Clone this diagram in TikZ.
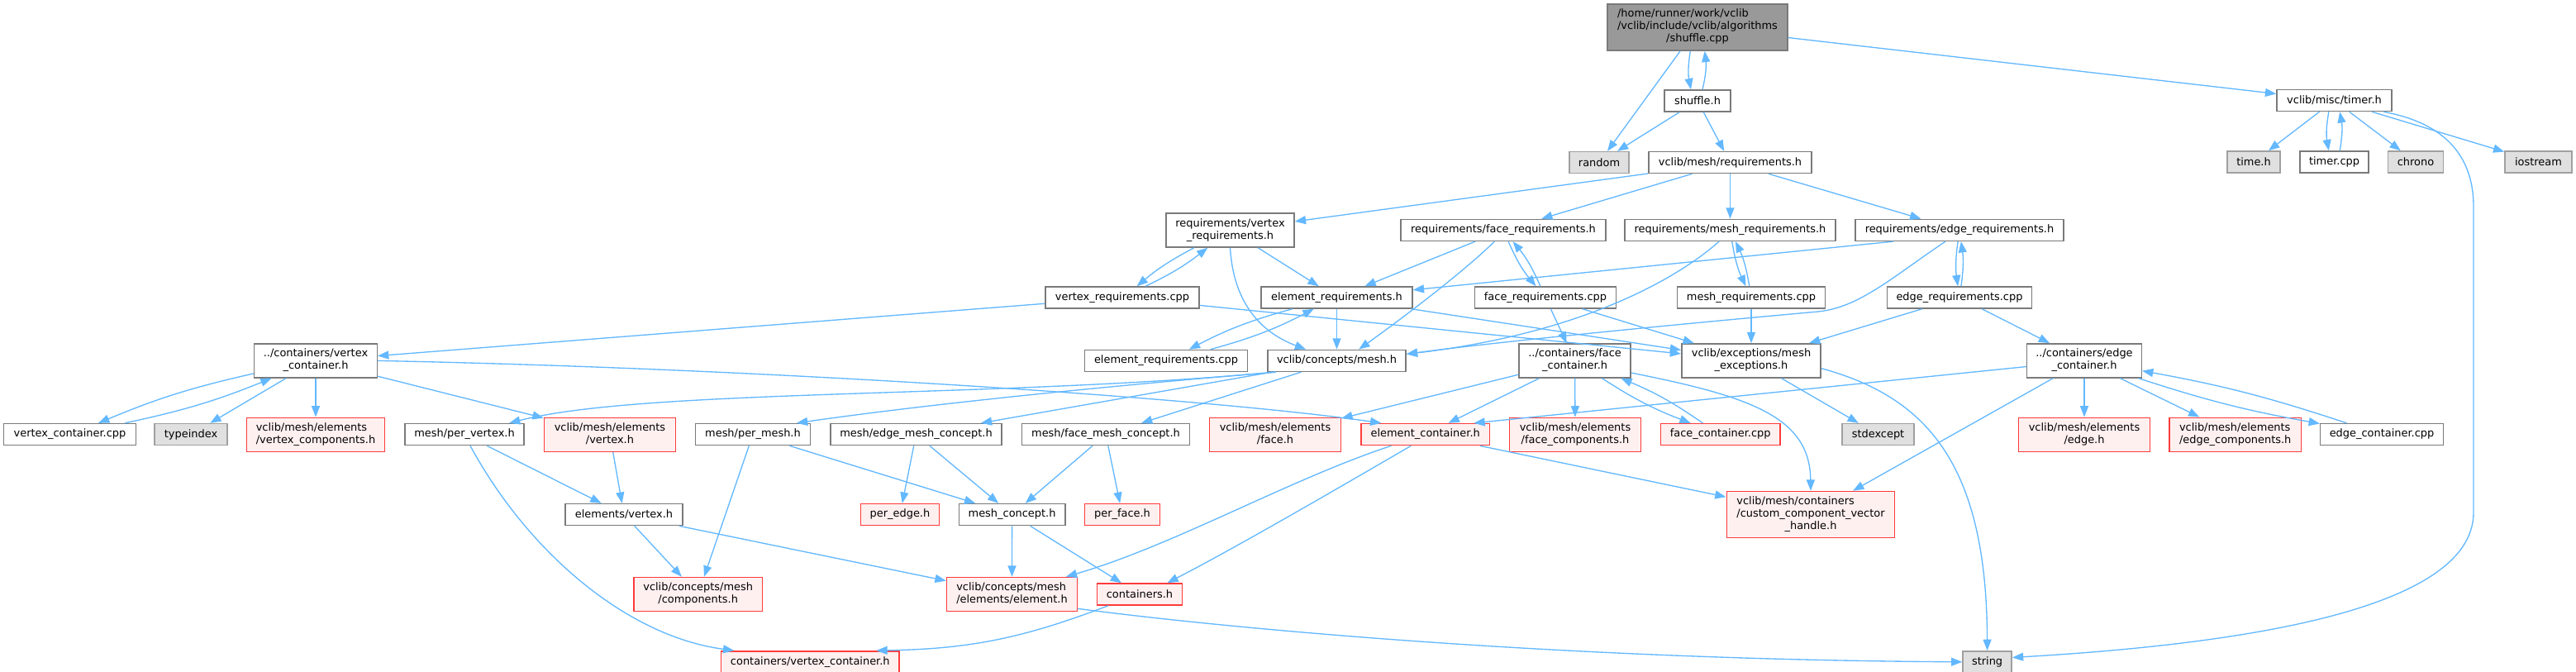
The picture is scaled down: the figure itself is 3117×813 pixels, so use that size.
\documentclass[tikz,border=0pt]{standalone}
\usepackage{fontspec}
\setmainfont{DejaVu Sans}
\usepackage{tikz}
\usepackage{xcolor}
\usetikzlibrary{arrows.meta}
\definecolor{EdgeBlue}{HTML}{63B8FF}
\definecolor{NodeGrey}{HTML}{7A7A7A}
\definecolor{ExtGrey}{HTML}{A0A0A0}
\definecolor{ExtFill}{HTML}{E0E0E0}
\definecolor{RootFill}{HTML}{999999}
\definecolor{TruncRed}{HTML}{FF3B3B}
\definecolor{TruncFill}{HTML}{FFF0F0}
\newcommand{\splitlabel}[2]{\begin{tabular}{@{}l@{}}#1\\\multicolumn{1}{@{}c@{}}{#2}\end{tabular}}

\begin{document}
\begin{tikzpicture}[x=0.75pt,y=-0.75pt,>={Triangle[length=10pt,width=7.5pt]},
    file/.style={draw=NodeGrey,fill=white,line width=1.1pt,inner sep=0pt,minimum height=19.5pt,font=\fontsize{9.7pt}{11.25pt}\selectfont},
    ext/.style={file,draw=ExtGrey,fill=ExtFill},
    trunc/.style={file,draw=TruncRed,fill=TruncFill},
    top/.style={file,fill=RootFill},
    two/.style={minimum height=30.75pt},
    three/.style={minimum height=42pt},
    dep/.style={->,draw=EdgeBlue,line width=1pt}]
  \useasboundingbox (0,0) rectangle (3117,813);
  \node[top,three,minimum width=163.5pt] (root) at (2054,33) {\splitlabel{/home/runner/work/vclib\\/vclib/include/vclib/algorithms}{/shuffle.cpp}};
  \node[file,minimum width=60pt] (shuf) at (2054,122) {shuffle.h};
  \node[file,minimum width=104.25pt] (tmr) at (2824.5,121.5) {vclib/misc/timer.h};
  \node[ext,minimum width=54pt] (rnd) at (1935,196.6) {random};
  \node[file,minimum width=147.75pt] (req) at (2093.5,196.6) {vclib/mesh/requirements.h};
  \node[ext,minimum width=48pt] (timeh) at (2727,196) {time.h};
  \node[file,minimum width=62.25pt] (tcpp) at (2824.5,196) {timer.cpp};
  \node[ext,minimum width=50.6pt] (chr) at (2923,196) {chrono};
  \node[ext,minimum width=60.75pt] (ios) at (3071.5,196) {iostream};
  \node[file,two,minimum width=116.25pt] (vreq) at (1488.5,278.5) {\splitlabel{requirements/vertex}{\_requirements.h}};
  \node[file,minimum width=186pt] (freq) at (1819,278.4) {requirements/face\_requirements.h};
  \node[file,minimum width=191.25pt] (mreq) at (2093.5,278.4) {requirements/mesh\_requirements.h};
  \node[file,minimum width=189pt] (ereq) at (2371,278.4) {requirements/edge\_requirements.h};
  \node[file,minimum width=139.5pt] (vreqc) at (1358,360) {vertex\_requirements.cpp};
  \node[file,minimum width=137.25pt] (elreq) at (1617.5,360) {element\_requirements.h};
  \node[file,minimum width=128.25pt] (freqc) at (1870,360) {face\_requirements.cpp};
  \node[file,minimum width=134.6pt] (mreqc) at (2119,360) {mesh\_requirements.cpp};
  \node[file,minimum width=131.25pt] (ereqc) at (2371,360) {edge\_requirements.cpp};
  \node[file,two,minimum width=111.4pt] (vcont) at (382,436.4) {\splitlabel{../containers/vertex}{\_container.h}};
  \node[file,minimum width=148.1pt] (elreqc) at (1411,436.4) {element\_requirements.cpp};
  \node[file,minimum width=125.25pt] (cmesh) at (1617.5,436.4) {vclib/concepts/mesh.h};
  \node[file,two,minimum width=101.25pt] (fcont) at (1905.6,436.4) {\splitlabel{../containers/face}{\_container.h}};
  \node[file,two,minimum width=126.3pt] (mexc) at (2119,436.4) {\splitlabel{vclib/exceptions/mesh}{\_exceptions.h}};
  \node[file,two,minimum width=103.9pt] (econt) at (2522,436.4) {\splitlabel{../containers/edge}{\_container.h}};
  \node[file,minimum width=119.7pt] (vcontc) at (84.5,525.6) {vertex\_container.cpp};
  \node[ext,minimum width=65.7pt] (tidx) at (231,525.6) {typeindex};
  \node[trunc,two,minimum width=125.25pt] (vcomp) at (382,525.8) {\splitlabel{vclib/mesh/elements}{/vertex\_components.h}};
  \node[file,minimum width=108pt] (pvert) at (562,525.6) {mesh/per\_vertex.h};
  \node[trunc,two,minimum width=119.4pt] (evert) at (738,525.8) {\splitlabel{vclib/mesh/elements}{/vertex.h}};
  \node[file,minimum width=104.25pt] (pmesh) at (911,525.6) {mesh/per\_mesh.h};
  \node[file,minimum width=155.25pt] (emc) at (1108.5,525.6) {mesh/edge\_mesh\_concept.h};
  \node[file,minimum width=152.25pt] (fmc) at (1338,525.6) {mesh/face\_mesh\_concept.h};
  \node[trunc,two,minimum width=119.25pt] (eface) at (1543,525.8) {\splitlabel{vclib/mesh/elements}{/face.h}};
  \node[trunc,minimum width=116.55pt] (econt2) at (1724.7,525.6) {element\_container.h};
  \node[trunc,two,minimum width=119.25pt] (fcomp) at (1906,525.8) {\splitlabel{vclib/mesh/elements}{/face\_components.h}};
  \node[trunc,minimum width=108.5pt] (fcontc) at (2081.7,525.6) {face\_container.cpp};
  \node[ext,minimum width=65.25pt] (stdx) at (2272.5,525.6) {stdexcept};
  \node[trunc,two,minimum width=119.25pt] (eedge) at (2522,525.8) {\splitlabel{vclib/mesh/elements}{/edge.h}};
  \node[trunc,two,minimum width=119.5pt] (ecomp) at (2704.7,525.8) {\splitlabel{vclib/mesh/elements}{/edge\_components.h}};
  \node[file,minimum width=111.45pt] (econtc) at (2882,525.6) {edge\_container.cpp};
  \node[file,minimum width=106.3pt] (elvert) at (755,622.6) {elements/vertex.h};
  \node[trunc,minimum width=71.25pt] (pedge) at (1089,622.6) {per\_edge.h};
  \node[file,minimum width=96.3pt] (mconc) at (1224.6,622.6) {mesh\_concept.h};
  \node[trunc,minimum width=68.25pt] (pface) at (1358,622.6) {per\_face.h};
  \node[trunc,three,minimum width=152.6pt] (cvh) at (2191,622.5) {\splitlabel{vclib/mesh/containers\\/custom\_component\_vector}{\_handle.h}};
  \node[trunc,two,minimum width=116.5pt] (ccomp) at (844.7,719) {\splitlabel{vclib/concepts/mesh}{/components.h}};
  \node[trunc,two,minimum width=118.5pt] (celem) at (1224.5,719) {\splitlabel{vclib/concepts/mesh}{/elements/element.h}};
  \node[trunc,minimum width=77.55pt] (conth) at (1379,719) {containers.h};
  \node[trunc,minimum width=161.55pt] (cvcont) at (980.3,800.8) {containers/vertex\_container.h};
  \node[ext,minimum width=44.25pt] (str) at (2404.6,800.8) {string};

  \draw[dep] (root) -- (rnd);
  \draw[dep] ([xshift=-6.5pt]root.south) to[bend right=10] ([xshift=-6pt]shuf.north);
  \draw[dep] ([xshift=4.5pt]shuf.north) to[bend right=10] ([xshift=6.5pt]root.south);
  \draw[dep] (root) -- (tmr);
  \draw[dep] (shuf) -- (rnd);
  \draw[dep] (shuf) -- (req);
  \draw[dep] (req) -- (vreq);
  \draw[dep] (req) -- (freq);
  \draw[dep] (req) -- (mreq);
  \draw[dep] (req) -- (ereq);
  \draw[dep] (tmr) -- (timeh);
  \draw[dep] ([xshift=-5pt]tmr.south) to[bend right=10] ([xshift=-5pt]tcpp.north);
  \draw[dep] ([xshift=5pt]tcpp.north) to[bend right=10] ([xshift=5pt]tmr.south);
  \draw[dep] (tmr) -- (chr);
  \draw[dep] (tmr) -- (ios);
  \draw[dep] ([xshift=44.5pt]tmr.south) .. controls (2965,150) and (2993,195) .. (2993,250) -- (2993,620) .. controls (2993,740) and (2700,780) .. ([yshift=4pt]str.east);

  \draw[dep] (vreq) to[bend right=6] (vreqc);
  \draw[dep] (vreqc) to[bend right=6] (vreq);
  \draw[dep] (vreq) -- (elreq);
  \draw[dep] (vreq.south) .. controls (1492,360) and (1520,400) .. ([xshift=-28pt]cmesh.north);
  \draw[dep] (freq) -- (elreq);
  \draw[dep] ([xshift=-8pt]freq.south) .. controls (1770,330) and (1690,390) .. ([xshift=20pt]cmesh.north);
  \draw[dep] (freq) to[bend right=8] (freqc);
  \draw[dep] (freqc) to[bend right=8] (freq);
  \draw[dep] (mreq) to[bend right=8] (mreqc);
  \draw[dep] (mreqc) to[bend right=8] (mreq);
  \draw[dep] ([xshift=-10pt]mreq.south) .. controls (2020,345) and (1900,405) .. ([yshift=6pt]cmesh.east);
  \draw[dep] ([xshift=-60pt]ereq.south) -- (elreq);
  \draw[dep] ([xshift=-12.75pt]ereq.south) .. controls (2290,335) and (2250,372) .. (2200,377) .. controls (2000,395) and (1800,415) .. ([yshift=6pt]cmesh.east);
  \draw[dep] (ereq) to[bend right=8] (ereqc);
  \draw[dep] (ereqc) to[bend right=8] (ereq);

  \draw[dep] (elreq) -- (cmesh);
  \draw[dep] (elreq) to[bend right=6] (elreqc);
  \draw[dep] (elreqc) to[bend right=6] (elreq);
  \draw[dep] (elreq) -- (mexc);
  \draw[dep] (vreqc) -- (vcont);
  \draw[dep] (vreqc) -- (mexc);
  \draw[dep] (freqc) -- (fcont);
  \draw[dep] (freqc) -- (mexc);
  \draw[dep] (mreqc) -- (mexc);
  \draw[dep] (ereqc) -- (mexc);
  \draw[dep] (ereqc) -- (econt);

  \draw[dep] ([xshift=8pt]cmesh.south west) .. controls (1200,482) and (780,470) .. ([xshift=-14pt]pvert.north east);
  \draw[dep] ([xshift=8pt]cmesh.south west) .. controls (1400,462) and (1150,485) .. ([xshift=-13pt]pmesh.north east);
  \draw[dep] (cmesh) -- (emc);
  \draw[dep] (cmesh) -- (fmc);

  \draw[dep] (vcont) to[bend right=5] (vcontc);
  \draw[dep] (vcontc) to[bend right=5] (vcont);
  \draw[dep] (vcont) -- (tidx);
  \draw[dep] (vcont) -- (vcomp);
  \draw[dep] (vcont) -- (evert);
  \draw[dep] (vcont.east) .. controls (900,445) and (1450,480) .. ([xshift=-40pt]econt2.north);

  \draw[dep] (pvert) -- (elvert);
  \draw[dep] ([xshift=5.25pt]pvert.south) .. controls (640,670) and (760,770) .. ([xshift=-69pt]cvcont.north);
  \draw[dep] (evert) -- (elvert);
  \draw[dep] (pmesh) -- (ccomp);
  \draw[dep] (pmesh) -- (mconc);
  \draw[dep] (emc) -- (pedge);
  \draw[dep] (emc) -- (mconc);
  \draw[dep] (fmc) -- (mconc);
  \draw[dep] (fmc) -- (pface);
  \draw[dep] (elvert) -- (ccomp);
  \draw[dep] (elvert) -- (celem);
  \draw[dep] (mconc) -- (celem);
  \draw[dep] (mconc) -- (conth);
  \draw[dep] ([xshift=-28.5pt]conth.south) to[bend left=10] ([xshift=60pt]cvcont.north);
  \draw[dep] ([yshift=-13pt]celem.east) .. controls (1500,762) and (1900,798) .. (str.west);

  \draw[dep] ([xshift=-31pt]econt2.south) .. controls (1560,580) and (1420,660) .. ([xshift=49pt]celem.north);
  \draw[dep] ([xshift=-13pt]econt2.south) .. controls (1620,590) and (1500,660) .. ([xshift=25pt]conth.north);
  \draw[dep] (econt2) -- (cvh);

  \draw[dep] (fcont) -- (eface);
  \draw[dep] (fcont) -- (econt2);
  \draw[dep] (fcont) -- (fcomp);
  \draw[dep] (fcont) to[bend right=6] (fcontc);
  \draw[dep] (fcontc) to[bend right=6] (fcont);
  \draw[dep] ([yshift=-11pt]fcont.east) .. controls (2120,480) and (2190,505) .. (cvh.north);

  \draw[dep] (mexc) -- (stdx);
  \draw[dep] ([yshift=-7pt]mexc.east) .. controls (2330,480) and (2404,560) .. (str.north);

  \draw[dep] (econt) -- ([xshift=44pt]econt2.north);
  \draw[dep] (econt) -- (cvh);
  \draw[dep] (econt) -- (eedge);
  \draw[dep] (econt) -- (ecomp);
  \draw[dep] (econt) to[bend right=4] (econtc);
  \draw[dep] (econtc) to[bend right=4] (econt);
\end{tikzpicture}
\end{document}
